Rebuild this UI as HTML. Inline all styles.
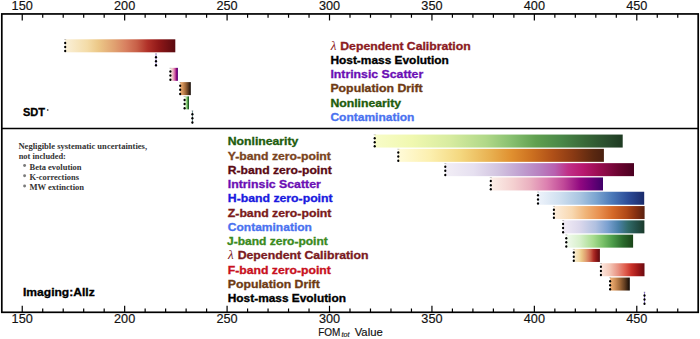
<!DOCTYPE html>
<html><head><meta charset="utf-8"><style>
html,body{margin:0;padding:0;background:#fff;}
body{width:700px;height:339px;overflow:hidden;font-family:"Liberation Sans", sans-serif;}
svg{display:block;}
</style></head><body>
<svg width="700" height="339" viewBox="0 0 700 339">
<defs><linearGradient id="g_YlGn" x1="0" y1="0" x2="1" y2="0"><stop offset="0.000" stop-color="#f8fcc8"/><stop offset="0.150" stop-color="#f0f8b0"/><stop offset="0.300" stop-color="#d8eca0"/><stop offset="0.450" stop-color="#b0d888"/><stop offset="0.550" stop-color="#88c070"/><stop offset="0.650" stop-color="#60a050"/><stop offset="0.750" stop-color="#4a8848"/><stop offset="0.850" stop-color="#386838"/><stop offset="0.950" stop-color="#284a2c"/><stop offset="1.000" stop-color="#1e3a22"/></linearGradient><linearGradient id="g_YlOrBr" x1="0" y1="0" x2="1" y2="0"><stop offset="0.000" stop-color="#fffbd8"/><stop offset="0.150" stop-color="#fcf0b0"/><stop offset="0.300" stop-color="#f4d880"/><stop offset="0.450" stop-color="#e8b050"/><stop offset="0.550" stop-color="#e09030"/><stop offset="0.650" stop-color="#cc7020"/><stop offset="0.750" stop-color="#b05018"/><stop offset="0.850" stop-color="#8a3a14"/><stop offset="0.950" stop-color="#5a2810"/><stop offset="1.000" stop-color="#4a2010"/></linearGradient><linearGradient id="g_PuRd" x1="0" y1="0" x2="1" y2="0"><stop offset="0.000" stop-color="#f2eef6"/><stop offset="0.150" stop-color="#e6e0f0"/><stop offset="0.280" stop-color="#d2c4e0"/><stop offset="0.400" stop-color="#c0a0d0"/><stop offset="0.500" stop-color="#b880c0"/><stop offset="0.580" stop-color="#b860b0"/><stop offset="0.650" stop-color="#c03088"/><stop offset="0.730" stop-color="#b81870"/><stop offset="0.820" stop-color="#980c50"/><stop offset="0.920" stop-color="#6a0430"/><stop offset="1.000" stop-color="#4a0020"/></linearGradient><linearGradient id="g_RdPu" x1="0" y1="0" x2="1" y2="0"><stop offset="0.000" stop-color="#fcefe8"/><stop offset="0.200" stop-color="#f4d0d0"/><stop offset="0.350" stop-color="#eab0c0"/><stop offset="0.500" stop-color="#dc80b0"/><stop offset="0.650" stop-color="#c04898"/><stop offset="0.800" stop-color="#900880"/><stop offset="0.900" stop-color="#6a0078"/><stop offset="1.000" stop-color="#400068"/></linearGradient><linearGradient id="g_Blues" x1="0" y1="0" x2="1" y2="0"><stop offset="0.000" stop-color="#eef3fb"/><stop offset="0.200" stop-color="#d0e0f0"/><stop offset="0.400" stop-color="#a8c4e0"/><stop offset="0.550" stop-color="#7aa4d0"/><stop offset="0.700" stop-color="#4a78b8"/><stop offset="0.850" stop-color="#2c4c98"/><stop offset="1.000" stop-color="#1a2a6a"/></linearGradient><linearGradient id="g_Oranges" x1="0" y1="0" x2="1" y2="0"><stop offset="0.000" stop-color="#fdeedd"/><stop offset="0.200" stop-color="#f8d8b0"/><stop offset="0.350" stop-color="#f0b478"/><stop offset="0.500" stop-color="#e89050"/><stop offset="0.650" stop-color="#d46828"/><stop offset="0.800" stop-color="#b04818"/><stop offset="0.900" stop-color="#883010"/><stop offset="1.000" stop-color="#5a2010"/></linearGradient><linearGradient id="g_PuBuGn" x1="0" y1="0" x2="1" y2="0"><stop offset="0.000" stop-color="#f2ecf6"/><stop offset="0.200" stop-color="#dcd8ec"/><stop offset="0.400" stop-color="#b0c0e0"/><stop offset="0.550" stop-color="#7aa0d0"/><stop offset="0.680" stop-color="#4a80a8"/><stop offset="0.800" stop-color="#306a68"/><stop offset="0.900" stop-color="#24504a"/><stop offset="1.000" stop-color="#1a3a2a"/></linearGradient><linearGradient id="g_Greens" x1="0" y1="0" x2="1" y2="0"><stop offset="0.000" stop-color="#f2faee"/><stop offset="0.200" stop-color="#d8f0cc"/><stop offset="0.400" stop-color="#a8dc90"/><stop offset="0.550" stop-color="#78c068"/><stop offset="0.700" stop-color="#4a9a48"/><stop offset="0.850" stop-color="#2a6a2c"/><stop offset="1.000" stop-color="#1a4418"/></linearGradient><linearGradient id="g_OrRd" x1="0" y1="0" x2="1" y2="0"><stop offset="0.000" stop-color="#faf0d8"/><stop offset="0.200" stop-color="#f4dca8"/><stop offset="0.300" stop-color="#ecc888"/><stop offset="0.450" stop-color="#e0a070"/><stop offset="0.550" stop-color="#d88060"/><stop offset="0.650" stop-color="#c86048"/><stop offset="0.750" stop-color="#b03028"/><stop offset="0.850" stop-color="#901818"/><stop offset="1.000" stop-color="#5a0a10"/></linearGradient><linearGradient id="g_Reds" x1="0" y1="0" x2="1" y2="0"><stop offset="0.000" stop-color="#fce8e0"/><stop offset="0.200" stop-color="#f4c8b8"/><stop offset="0.400" stop-color="#e89080"/><stop offset="0.550" stop-color="#e06050"/><stop offset="0.700" stop-color="#c83028"/><stop offset="0.850" stop-color="#a01818"/><stop offset="1.000" stop-color="#6a0a10"/></linearGradient><linearGradient id="g_copper_r" x1="0" y1="0" x2="1" y2="0"><stop offset="0.000" stop-color="#f4b478"/><stop offset="0.250" stop-color="#d09058"/><stop offset="0.500" stop-color="#a06838"/><stop offset="0.750" stop-color="#603c20"/><stop offset="1.000" stop-color="#100804"/></linearGradient></defs>
<rect width="700" height="339" fill="#fff"/>
<rect x="65.20" y="39.30" width="110.10" height="13.0" fill="url(#g_OrRd)"/>
<ellipse cx="65.20" cy="42.90" rx="1.1" ry="1.25" fill="#000"/>
<ellipse cx="65.20" cy="47.00" rx="1.1" ry="1.25" fill="#000"/>
<ellipse cx="65.20" cy="51.10" rx="1.1" ry="1.25" fill="#000"/>
<rect x="64.20" y="39.30" width="2" height="0.6" fill="#000" opacity="0.35"/>
<rect x="155.55" y="53.57" width="0.9" height="13.0" fill="#7a58d0" opacity="0.75"/>
<ellipse cx="156.00" cy="57.17" rx="1.1" ry="1.25" fill="#000"/>
<ellipse cx="156.00" cy="61.27" rx="1.1" ry="1.25" fill="#000"/>
<ellipse cx="156.00" cy="65.37" rx="1.1" ry="1.25" fill="#000"/>
<rect x="155.00" y="53.57" width="2" height="0.6" fill="#000" opacity="0.35"/>
<rect x="170.40" y="67.84" width="7.50" height="13.0" fill="url(#g_RdPu)"/>
<ellipse cx="170.40" cy="71.44" rx="1.1" ry="1.25" fill="#000"/>
<ellipse cx="170.40" cy="75.54" rx="1.1" ry="1.25" fill="#000"/>
<ellipse cx="170.40" cy="79.64" rx="1.1" ry="1.25" fill="#000"/>
<rect x="169.40" y="67.84" width="2" height="0.6" fill="#000" opacity="0.35"/>
<rect x="180.20" y="82.11" width="10.60" height="13.0" fill="url(#g_copper_r)"/>
<ellipse cx="180.20" cy="85.71" rx="1.1" ry="1.25" fill="#000"/>
<ellipse cx="180.20" cy="89.81" rx="1.1" ry="1.25" fill="#000"/>
<ellipse cx="180.20" cy="93.91" rx="1.1" ry="1.25" fill="#000"/>
<rect x="179.20" y="82.11" width="2" height="0.6" fill="#000" opacity="0.35"/>
<rect x="184.60" y="96.38" width="4.40" height="13.0" fill="url(#g_Greens)"/>
<ellipse cx="184.60" cy="99.98" rx="1.1" ry="1.25" fill="#000"/>
<ellipse cx="184.60" cy="104.08" rx="1.1" ry="1.25" fill="#000"/>
<ellipse cx="184.60" cy="108.18" rx="1.1" ry="1.25" fill="#000"/>
<rect x="183.60" y="96.38" width="2" height="0.6" fill="#000" opacity="0.35"/>
<rect x="191.95" y="110.65" width="0.9" height="13.0" fill="#3a6a68" opacity="0.75"/>
<ellipse cx="192.40" cy="114.25" rx="1.1" ry="1.25" fill="#000"/>
<ellipse cx="192.40" cy="118.35" rx="1.1" ry="1.25" fill="#000"/>
<ellipse cx="192.40" cy="122.45" rx="1.1" ry="1.25" fill="#000"/>
<rect x="191.40" y="110.65" width="2" height="0.6" fill="#000" opacity="0.35"/>
<rect x="374.70" y="134.55" width="248.00" height="13.0" fill="url(#g_YlGn)"/>
<ellipse cx="374.70" cy="138.15" rx="1.1" ry="1.25" fill="#000"/>
<ellipse cx="374.70" cy="142.25" rx="1.1" ry="1.25" fill="#000"/>
<ellipse cx="374.70" cy="146.35" rx="1.1" ry="1.25" fill="#000"/>
<rect x="373.70" y="134.55" width="2" height="0.6" fill="#000" opacity="0.35"/>
<rect x="398.30" y="148.85" width="205.60" height="13.0" fill="url(#g_YlOrBr)"/>
<ellipse cx="398.30" cy="152.45" rx="1.1" ry="1.25" fill="#000"/>
<ellipse cx="398.30" cy="156.55" rx="1.1" ry="1.25" fill="#000"/>
<ellipse cx="398.30" cy="160.65" rx="1.1" ry="1.25" fill="#000"/>
<rect x="397.30" y="148.85" width="2" height="0.6" fill="#000" opacity="0.35"/>
<rect x="445.30" y="163.15" width="188.70" height="13.0" fill="url(#g_PuRd)"/>
<ellipse cx="445.30" cy="166.75" rx="1.1" ry="1.25" fill="#000"/>
<ellipse cx="445.30" cy="170.85" rx="1.1" ry="1.25" fill="#000"/>
<ellipse cx="445.30" cy="174.95" rx="1.1" ry="1.25" fill="#000"/>
<rect x="444.30" y="163.15" width="2" height="0.6" fill="#000" opacity="0.35"/>
<rect x="490.80" y="177.45" width="112.20" height="13.0" fill="url(#g_RdPu)"/>
<ellipse cx="490.80" cy="181.05" rx="1.1" ry="1.25" fill="#000"/>
<ellipse cx="490.80" cy="185.15" rx="1.1" ry="1.25" fill="#000"/>
<ellipse cx="490.80" cy="189.25" rx="1.1" ry="1.25" fill="#000"/>
<rect x="489.80" y="177.45" width="2" height="0.6" fill="#000" opacity="0.35"/>
<rect x="538.00" y="191.75" width="106.20" height="13.0" fill="url(#g_Blues)"/>
<ellipse cx="538.00" cy="195.35" rx="1.1" ry="1.25" fill="#000"/>
<ellipse cx="538.00" cy="199.45" rx="1.1" ry="1.25" fill="#000"/>
<ellipse cx="538.00" cy="203.55" rx="1.1" ry="1.25" fill="#000"/>
<rect x="537.00" y="191.75" width="2" height="0.6" fill="#000" opacity="0.35"/>
<rect x="553.90" y="206.05" width="90.70" height="13.0" fill="url(#g_Oranges)"/>
<ellipse cx="553.90" cy="209.65" rx="1.1" ry="1.25" fill="#000"/>
<ellipse cx="553.90" cy="213.75" rx="1.1" ry="1.25" fill="#000"/>
<ellipse cx="553.90" cy="217.85" rx="1.1" ry="1.25" fill="#000"/>
<rect x="552.90" y="206.05" width="2" height="0.6" fill="#000" opacity="0.35"/>
<rect x="563.10" y="220.35" width="81.30" height="13.0" fill="url(#g_PuBuGn)"/>
<ellipse cx="563.10" cy="223.95" rx="1.1" ry="1.25" fill="#000"/>
<ellipse cx="563.10" cy="228.05" rx="1.1" ry="1.25" fill="#000"/>
<ellipse cx="563.10" cy="232.15" rx="1.1" ry="1.25" fill="#000"/>
<rect x="562.10" y="220.35" width="2" height="0.6" fill="#000" opacity="0.35"/>
<rect x="566.30" y="234.65" width="66.80" height="13.0" fill="url(#g_Greens)"/>
<ellipse cx="566.30" cy="238.25" rx="1.1" ry="1.25" fill="#000"/>
<ellipse cx="566.30" cy="242.35" rx="1.1" ry="1.25" fill="#000"/>
<ellipse cx="566.30" cy="246.45" rx="1.1" ry="1.25" fill="#000"/>
<rect x="565.30" y="234.65" width="2" height="0.6" fill="#000" opacity="0.35"/>
<rect x="573.80" y="248.95" width="26.10" height="13.0" fill="url(#g_OrRd)"/>
<ellipse cx="573.80" cy="252.55" rx="1.1" ry="1.25" fill="#000"/>
<ellipse cx="573.80" cy="256.65" rx="1.1" ry="1.25" fill="#000"/>
<ellipse cx="573.80" cy="260.75" rx="1.1" ry="1.25" fill="#000"/>
<rect x="572.80" y="248.95" width="2" height="0.6" fill="#000" opacity="0.35"/>
<rect x="600.90" y="263.25" width="43.60" height="13.0" fill="url(#g_Reds)"/>
<ellipse cx="600.90" cy="266.85" rx="1.1" ry="1.25" fill="#000"/>
<ellipse cx="600.90" cy="270.95" rx="1.1" ry="1.25" fill="#000"/>
<ellipse cx="600.90" cy="275.05" rx="1.1" ry="1.25" fill="#000"/>
<rect x="599.90" y="263.25" width="2" height="0.6" fill="#000" opacity="0.35"/>
<rect x="610.10" y="277.55" width="19.70" height="13.0" fill="url(#g_copper_r)"/>
<ellipse cx="610.10" cy="281.15" rx="1.1" ry="1.25" fill="#000"/>
<ellipse cx="610.10" cy="285.25" rx="1.1" ry="1.25" fill="#000"/>
<ellipse cx="610.10" cy="289.35" rx="1.1" ry="1.25" fill="#000"/>
<rect x="609.10" y="277.55" width="2" height="0.6" fill="#000" opacity="0.35"/>
<rect x="644.05" y="291.85" width="0.9" height="13.0" fill="#7a58d0" opacity="0.75"/>
<ellipse cx="644.50" cy="295.45" rx="1.1" ry="1.25" fill="#000"/>
<ellipse cx="644.50" cy="299.55" rx="1.1" ry="1.25" fill="#000"/>
<ellipse cx="644.50" cy="303.65" rx="1.1" ry="1.25" fill="#000"/>
<rect x="643.50" y="291.85" width="2" height="0.6" fill="#000" opacity="0.35"/>
<rect x="1.8" y="13.95" width="696.4" height="298.35" fill="none" stroke="#000" stroke-width="1.7"/>
<line x1="1.8" y1="128.5" x2="698.2" y2="128.5" stroke="#000" stroke-width="1.3"/>
<line x1="22.24" y1="13.95" x2="22.24" y2="20.45" stroke="#000" stroke-width="1.2"/>
<line x1="22.24" y1="312.3" x2="22.24" y2="305.80" stroke="#000" stroke-width="1.2"/>
<line x1="42.72" y1="13.95" x2="42.72" y2="17.75" stroke="#000" stroke-width="1.2"/>
<line x1="42.72" y1="312.3" x2="42.72" y2="308.50" stroke="#000" stroke-width="1.2"/>
<line x1="63.21" y1="13.95" x2="63.21" y2="17.75" stroke="#000" stroke-width="1.2"/>
<line x1="63.21" y1="312.3" x2="63.21" y2="308.50" stroke="#000" stroke-width="1.2"/>
<line x1="83.69" y1="13.95" x2="83.69" y2="17.75" stroke="#000" stroke-width="1.2"/>
<line x1="83.69" y1="312.3" x2="83.69" y2="308.50" stroke="#000" stroke-width="1.2"/>
<line x1="104.18" y1="13.95" x2="104.18" y2="17.75" stroke="#000" stroke-width="1.2"/>
<line x1="104.18" y1="312.3" x2="104.18" y2="308.50" stroke="#000" stroke-width="1.2"/>
<line x1="124.66" y1="13.95" x2="124.66" y2="20.45" stroke="#000" stroke-width="1.2"/>
<line x1="124.66" y1="312.3" x2="124.66" y2="305.80" stroke="#000" stroke-width="1.2"/>
<line x1="145.15" y1="13.95" x2="145.15" y2="17.75" stroke="#000" stroke-width="1.2"/>
<line x1="145.15" y1="312.3" x2="145.15" y2="308.50" stroke="#000" stroke-width="1.2"/>
<line x1="165.63" y1="13.95" x2="165.63" y2="17.75" stroke="#000" stroke-width="1.2"/>
<line x1="165.63" y1="312.3" x2="165.63" y2="308.50" stroke="#000" stroke-width="1.2"/>
<line x1="186.12" y1="13.95" x2="186.12" y2="17.75" stroke="#000" stroke-width="1.2"/>
<line x1="186.12" y1="312.3" x2="186.12" y2="308.50" stroke="#000" stroke-width="1.2"/>
<line x1="206.60" y1="13.95" x2="206.60" y2="17.75" stroke="#000" stroke-width="1.2"/>
<line x1="206.60" y1="312.3" x2="206.60" y2="308.50" stroke="#000" stroke-width="1.2"/>
<line x1="227.09" y1="13.95" x2="227.09" y2="20.45" stroke="#000" stroke-width="1.2"/>
<line x1="227.09" y1="312.3" x2="227.09" y2="305.80" stroke="#000" stroke-width="1.2"/>
<line x1="247.57" y1="13.95" x2="247.57" y2="17.75" stroke="#000" stroke-width="1.2"/>
<line x1="247.57" y1="312.3" x2="247.57" y2="308.50" stroke="#000" stroke-width="1.2"/>
<line x1="268.06" y1="13.95" x2="268.06" y2="17.75" stroke="#000" stroke-width="1.2"/>
<line x1="268.06" y1="312.3" x2="268.06" y2="308.50" stroke="#000" stroke-width="1.2"/>
<line x1="288.54" y1="13.95" x2="288.54" y2="17.75" stroke="#000" stroke-width="1.2"/>
<line x1="288.54" y1="312.3" x2="288.54" y2="308.50" stroke="#000" stroke-width="1.2"/>
<line x1="309.03" y1="13.95" x2="309.03" y2="17.75" stroke="#000" stroke-width="1.2"/>
<line x1="309.03" y1="312.3" x2="309.03" y2="308.50" stroke="#000" stroke-width="1.2"/>
<line x1="329.51" y1="13.95" x2="329.51" y2="20.45" stroke="#000" stroke-width="1.2"/>
<line x1="329.51" y1="312.3" x2="329.51" y2="305.80" stroke="#000" stroke-width="1.2"/>
<line x1="350.00" y1="13.95" x2="350.00" y2="17.75" stroke="#000" stroke-width="1.2"/>
<line x1="350.00" y1="312.3" x2="350.00" y2="308.50" stroke="#000" stroke-width="1.2"/>
<line x1="370.48" y1="13.95" x2="370.48" y2="17.75" stroke="#000" stroke-width="1.2"/>
<line x1="370.48" y1="312.3" x2="370.48" y2="308.50" stroke="#000" stroke-width="1.2"/>
<line x1="390.97" y1="13.95" x2="390.97" y2="17.75" stroke="#000" stroke-width="1.2"/>
<line x1="390.97" y1="312.3" x2="390.97" y2="308.50" stroke="#000" stroke-width="1.2"/>
<line x1="411.45" y1="13.95" x2="411.45" y2="17.75" stroke="#000" stroke-width="1.2"/>
<line x1="411.45" y1="312.3" x2="411.45" y2="308.50" stroke="#000" stroke-width="1.2"/>
<line x1="431.94" y1="13.95" x2="431.94" y2="20.45" stroke="#000" stroke-width="1.2"/>
<line x1="431.94" y1="312.3" x2="431.94" y2="305.80" stroke="#000" stroke-width="1.2"/>
<line x1="452.42" y1="13.95" x2="452.42" y2="17.75" stroke="#000" stroke-width="1.2"/>
<line x1="452.42" y1="312.3" x2="452.42" y2="308.50" stroke="#000" stroke-width="1.2"/>
<line x1="472.91" y1="13.95" x2="472.91" y2="17.75" stroke="#000" stroke-width="1.2"/>
<line x1="472.91" y1="312.3" x2="472.91" y2="308.50" stroke="#000" stroke-width="1.2"/>
<line x1="493.39" y1="13.95" x2="493.39" y2="17.75" stroke="#000" stroke-width="1.2"/>
<line x1="493.39" y1="312.3" x2="493.39" y2="308.50" stroke="#000" stroke-width="1.2"/>
<line x1="513.88" y1="13.95" x2="513.88" y2="17.75" stroke="#000" stroke-width="1.2"/>
<line x1="513.88" y1="312.3" x2="513.88" y2="308.50" stroke="#000" stroke-width="1.2"/>
<line x1="534.36" y1="13.95" x2="534.36" y2="20.45" stroke="#000" stroke-width="1.2"/>
<line x1="534.36" y1="312.3" x2="534.36" y2="305.80" stroke="#000" stroke-width="1.2"/>
<line x1="554.85" y1="13.95" x2="554.85" y2="17.75" stroke="#000" stroke-width="1.2"/>
<line x1="554.85" y1="312.3" x2="554.85" y2="308.50" stroke="#000" stroke-width="1.2"/>
<line x1="575.33" y1="13.95" x2="575.33" y2="17.75" stroke="#000" stroke-width="1.2"/>
<line x1="575.33" y1="312.3" x2="575.33" y2="308.50" stroke="#000" stroke-width="1.2"/>
<line x1="595.82" y1="13.95" x2="595.82" y2="17.75" stroke="#000" stroke-width="1.2"/>
<line x1="595.82" y1="312.3" x2="595.82" y2="308.50" stroke="#000" stroke-width="1.2"/>
<line x1="616.30" y1="13.95" x2="616.30" y2="17.75" stroke="#000" stroke-width="1.2"/>
<line x1="616.30" y1="312.3" x2="616.30" y2="308.50" stroke="#000" stroke-width="1.2"/>
<line x1="636.79" y1="13.95" x2="636.79" y2="20.45" stroke="#000" stroke-width="1.2"/>
<line x1="636.79" y1="312.3" x2="636.79" y2="305.80" stroke="#000" stroke-width="1.2"/>
<line x1="657.27" y1="13.95" x2="657.27" y2="17.75" stroke="#000" stroke-width="1.2"/>
<line x1="657.27" y1="312.3" x2="657.27" y2="308.50" stroke="#000" stroke-width="1.2"/>
<line x1="677.76" y1="13.95" x2="677.76" y2="17.75" stroke="#000" stroke-width="1.2"/>
<line x1="677.76" y1="312.3" x2="677.76" y2="308.50" stroke="#000" stroke-width="1.2"/>
<text x="11.64" y="9.70" font-family='"Liberation Sans", sans-serif' font-size="12" font-weight="normal" font-style="normal" fill="#111" textLength="21.20" lengthAdjust="spacingAndGlyphs"  stroke="#111" stroke-width="0.15">150</text>
<text x="11.64" y="323.30" font-family='"Liberation Sans", sans-serif' font-size="12" font-weight="normal" font-style="normal" fill="#111" textLength="21.20" lengthAdjust="spacingAndGlyphs"  stroke="#111" stroke-width="0.15">150</text>
<text x="114.06" y="9.70" font-family='"Liberation Sans", sans-serif' font-size="12" font-weight="normal" font-style="normal" fill="#111" textLength="21.20" lengthAdjust="spacingAndGlyphs"  stroke="#111" stroke-width="0.15">200</text>
<text x="114.06" y="323.30" font-family='"Liberation Sans", sans-serif' font-size="12" font-weight="normal" font-style="normal" fill="#111" textLength="21.20" lengthAdjust="spacingAndGlyphs"  stroke="#111" stroke-width="0.15">200</text>
<text x="216.49" y="9.70" font-family='"Liberation Sans", sans-serif' font-size="12" font-weight="normal" font-style="normal" fill="#111" textLength="21.20" lengthAdjust="spacingAndGlyphs"  stroke="#111" stroke-width="0.15">250</text>
<text x="216.49" y="323.30" font-family='"Liberation Sans", sans-serif' font-size="12" font-weight="normal" font-style="normal" fill="#111" textLength="21.20" lengthAdjust="spacingAndGlyphs"  stroke="#111" stroke-width="0.15">250</text>
<text x="318.91" y="9.70" font-family='"Liberation Sans", sans-serif' font-size="12" font-weight="normal" font-style="normal" fill="#111" textLength="21.20" lengthAdjust="spacingAndGlyphs"  stroke="#111" stroke-width="0.15">300</text>
<text x="318.91" y="323.30" font-family='"Liberation Sans", sans-serif' font-size="12" font-weight="normal" font-style="normal" fill="#111" textLength="21.20" lengthAdjust="spacingAndGlyphs"  stroke="#111" stroke-width="0.15">300</text>
<text x="421.34" y="9.70" font-family='"Liberation Sans", sans-serif' font-size="12" font-weight="normal" font-style="normal" fill="#111" textLength="21.20" lengthAdjust="spacingAndGlyphs"  stroke="#111" stroke-width="0.15">350</text>
<text x="421.34" y="323.30" font-family='"Liberation Sans", sans-serif' font-size="12" font-weight="normal" font-style="normal" fill="#111" textLength="21.20" lengthAdjust="spacingAndGlyphs"  stroke="#111" stroke-width="0.15">350</text>
<text x="523.76" y="9.70" font-family='"Liberation Sans", sans-serif' font-size="12" font-weight="normal" font-style="normal" fill="#111" textLength="21.20" lengthAdjust="spacingAndGlyphs"  stroke="#111" stroke-width="0.15">400</text>
<text x="523.76" y="323.30" font-family='"Liberation Sans", sans-serif' font-size="12" font-weight="normal" font-style="normal" fill="#111" textLength="21.20" lengthAdjust="spacingAndGlyphs"  stroke="#111" stroke-width="0.15">400</text>
<text x="626.19" y="9.70" font-family='"Liberation Sans", sans-serif' font-size="12" font-weight="normal" font-style="normal" fill="#111" textLength="21.20" lengthAdjust="spacingAndGlyphs"  stroke="#111" stroke-width="0.15">450</text>
<text x="626.19" y="323.30" font-family='"Liberation Sans", sans-serif' font-size="12" font-weight="normal" font-style="normal" fill="#111" textLength="21.20" lengthAdjust="spacingAndGlyphs"  stroke="#111" stroke-width="0.15">450</text>
<text x="318.20" y="336.00" font-family='"Liberation Sans", sans-serif' font-size="11" font-weight="normal" font-style="normal" fill="#111" textLength="22.20" lengthAdjust="spacingAndGlyphs"  stroke="#111" stroke-width="0.15">FOM</text>
<text x="341.50" y="337.40" font-family='"Liberation Sans", sans-serif' font-size="7.5" font-weight="normal" font-style="italic" fill="#111" textLength="7.95" lengthAdjust="spacingAndGlyphs"  stroke="#111" stroke-width="0.15">tot</text>
<text x="354.70" y="336.00" font-family='"Liberation Sans", sans-serif' font-size="11" font-weight="normal" font-style="normal" fill="#111" textLength="28.00" lengthAdjust="spacingAndGlyphs"  stroke="#111" stroke-width="0.15">Value</text>
<text x="330.73" y="49.60" font-family='"Liberation Serif", serif' font-size="11.5" font-weight="normal" font-style="italic" fill="#8b1a22" textLength="5.67" lengthAdjust="spacingAndGlyphs" >λ</text>
<text x="340.30" y="49.60" font-family='"Liberation Sans", sans-serif' font-size="10.5" font-weight="bold" font-style="normal" fill="#8b1a22" textLength="130.40" lengthAdjust="spacingAndGlyphs"  stroke="#8b1a22" stroke-width="0.3">Dependent Calibration</text>
<text x="330.40" y="63.87" font-family='"Liberation Sans", sans-serif' font-size="10.5" font-weight="bold" font-style="normal" fill="#000000" textLength="118.40" lengthAdjust="spacingAndGlyphs"  stroke="#000000" stroke-width="0.3">Host-mass Evolution</text>
<text x="330.40" y="78.14" font-family='"Liberation Sans", sans-serif' font-size="10.5" font-weight="bold" font-style="normal" fill="#6b0fb5" textLength="92.80" lengthAdjust="spacingAndGlyphs"  stroke="#6b0fb5" stroke-width="0.3">Intrinsic Scatter</text>
<text x="330.40" y="92.41" font-family='"Liberation Sans", sans-serif' font-size="10.5" font-weight="bold" font-style="normal" fill="#6e3b14" textLength="92.30" lengthAdjust="spacingAndGlyphs"  stroke="#6e3b14" stroke-width="0.3">Population Drift</text>
<text x="330.40" y="106.68" font-family='"Liberation Sans", sans-serif' font-size="10.5" font-weight="bold" font-style="normal" fill="#215c0c" textLength="70.70" lengthAdjust="spacingAndGlyphs"  stroke="#215c0c" stroke-width="0.3">Nonlinearity</text>
<text x="330.40" y="120.95" font-family='"Liberation Sans", sans-serif' font-size="10.5" font-weight="bold" font-style="normal" fill="#4a72f0" textLength="84.01" lengthAdjust="spacingAndGlyphs"  stroke="#4a72f0" stroke-width="0.3">Contamination</text>
<text x="227.80" y="145.35" font-family='"Liberation Sans", sans-serif' font-size="10.5" font-weight="bold" font-style="normal" fill="#215c0c" textLength="70.50" lengthAdjust="spacingAndGlyphs"  stroke="#215c0c" stroke-width="0.3">Nonlinearity</text>
<text x="227.80" y="159.60" font-family='"Liberation Sans", sans-serif' font-size="10.5" font-weight="bold" font-style="normal" fill="#7a4420" textLength="103.10" lengthAdjust="spacingAndGlyphs"  stroke="#7a4420" stroke-width="0.3">Y-band zero-point</text>
<text x="227.80" y="173.85" font-family='"Liberation Sans", sans-serif' font-size="10.5" font-weight="bold" font-style="normal" fill="#5a0a14" textLength="103.90" lengthAdjust="spacingAndGlyphs"  stroke="#5a0a14" stroke-width="0.3">R-band zero-point</text>
<text x="227.80" y="188.10" font-family='"Liberation Sans", sans-serif' font-size="10.5" font-weight="bold" font-style="normal" fill="#6b0fb5" textLength="93.00" lengthAdjust="spacingAndGlyphs"  stroke="#6b0fb5" stroke-width="0.3">Intrinsic Scatter</text>
<text x="227.80" y="202.35" font-family='"Liberation Sans", sans-serif' font-size="10.5" font-weight="bold" font-style="normal" fill="#1a1ae0" textLength="104.80" lengthAdjust="spacingAndGlyphs"  stroke="#1a1ae0" stroke-width="0.3">H-band zero-point</text>
<text x="227.80" y="216.60" font-family='"Liberation Sans", sans-serif' font-size="10.5" font-weight="bold" font-style="normal" fill="#7a1a1a" textLength="103.60" lengthAdjust="spacingAndGlyphs"  stroke="#7a1a1a" stroke-width="0.3">Z-band zero-point</text>
<text x="227.80" y="230.85" font-family='"Liberation Sans", sans-serif' font-size="10.5" font-weight="bold" font-style="normal" fill="#4a72f0" textLength="84.11" lengthAdjust="spacingAndGlyphs"  stroke="#4a72f0" stroke-width="0.3">Contamination</text>
<text x="227.00" y="245.10" font-family='"Liberation Sans", sans-serif' font-size="10.5" font-weight="bold" font-style="normal" fill="#3a8a20" textLength="100.79" lengthAdjust="spacingAndGlyphs"  stroke="#3a8a20" stroke-width="0.3">J-band zero-point</text>
<text x="228.13" y="259.35" font-family='"Liberation Serif", serif' font-size="11.5" font-weight="normal" font-style="italic" fill="#7a1a22" textLength="5.67" lengthAdjust="spacingAndGlyphs" >λ</text>
<text x="237.70" y="259.35" font-family='"Liberation Sans", sans-serif' font-size="10.5" font-weight="bold" font-style="normal" fill="#7a1a22" textLength="130.80" lengthAdjust="spacingAndGlyphs"  stroke="#7a1a22" stroke-width="0.3">Dependent Calibration</text>
<text x="227.80" y="273.60" font-family='"Liberation Sans", sans-serif' font-size="10.5" font-weight="bold" font-style="normal" fill="#c81020" textLength="103.00" lengthAdjust="spacingAndGlyphs"  stroke="#c81020" stroke-width="0.3">F-band zero-point</text>
<text x="227.80" y="287.85" font-family='"Liberation Sans", sans-serif' font-size="10.5" font-weight="bold" font-style="normal" fill="#6e3b14" textLength="92.00" lengthAdjust="spacingAndGlyphs"  stroke="#6e3b14" stroke-width="0.3">Population Drift</text>
<text x="227.80" y="302.10" font-family='"Liberation Sans", sans-serif' font-size="10.5" font-weight="bold" font-style="normal" fill="#000000" textLength="118.10" lengthAdjust="spacingAndGlyphs"  stroke="#000000" stroke-width="0.3">Host-mass Evolution</text>
<text x="22.90" y="115.90" font-family='"Liberation Sans", sans-serif' font-size="11.2" font-weight="bold" font-style="normal" fill="#000" textLength="22.10" lengthAdjust="spacingAndGlyphs"  stroke="#000" stroke-width="0.3">SDT</text>
<circle cx="47.7" cy="110" r="0.9" fill="#555"/>
<text x="23.00" y="296.10" font-family='"Liberation Sans", sans-serif' font-size="11" font-weight="bold" font-style="normal" fill="#000" textLength="71.70" lengthAdjust="spacingAndGlyphs"  stroke="#000" stroke-width="0.3">Imaging:Allz</text>
<text x="18.40" y="148.80" font-family='"Liberation Serif", serif' font-size="8.9" font-weight="bold" font-style="normal" fill="#333" textLength="128.70" lengthAdjust="spacingAndGlyphs" >Negligible systematic uncertainties,</text>
<text x="18.70" y="159.40" font-family='"Liberation Serif", serif' font-size="8.9" font-weight="bold" font-style="normal" fill="#333" textLength="47.20" lengthAdjust="spacingAndGlyphs" >not included:</text>
<circle cx="24.6" cy="165.50" r="1.45" fill="#7a7a7a"/>
<text x="29.50" y="169.70" font-family='"Liberation Serif", serif' font-size="8.9" font-weight="bold" font-style="normal" fill="#333" textLength="52.00" lengthAdjust="spacingAndGlyphs" >Beta evolution</text>
<circle cx="24.6" cy="175.80" r="1.45" fill="#7a7a7a"/>
<text x="29.40" y="180.00" font-family='"Liberation Serif", serif' font-size="8.9" font-weight="bold" font-style="normal" fill="#333" textLength="49.60" lengthAdjust="spacingAndGlyphs" >K-corrections</text>
<circle cx="24.6" cy="186.00" r="1.45" fill="#7a7a7a"/>
<text x="29.40" y="190.20" font-family='"Liberation Serif", serif' font-size="8.9" font-weight="bold" font-style="normal" fill="#333" textLength="54.70" lengthAdjust="spacingAndGlyphs" >MW extinction</text>
</svg>
</body></html>
